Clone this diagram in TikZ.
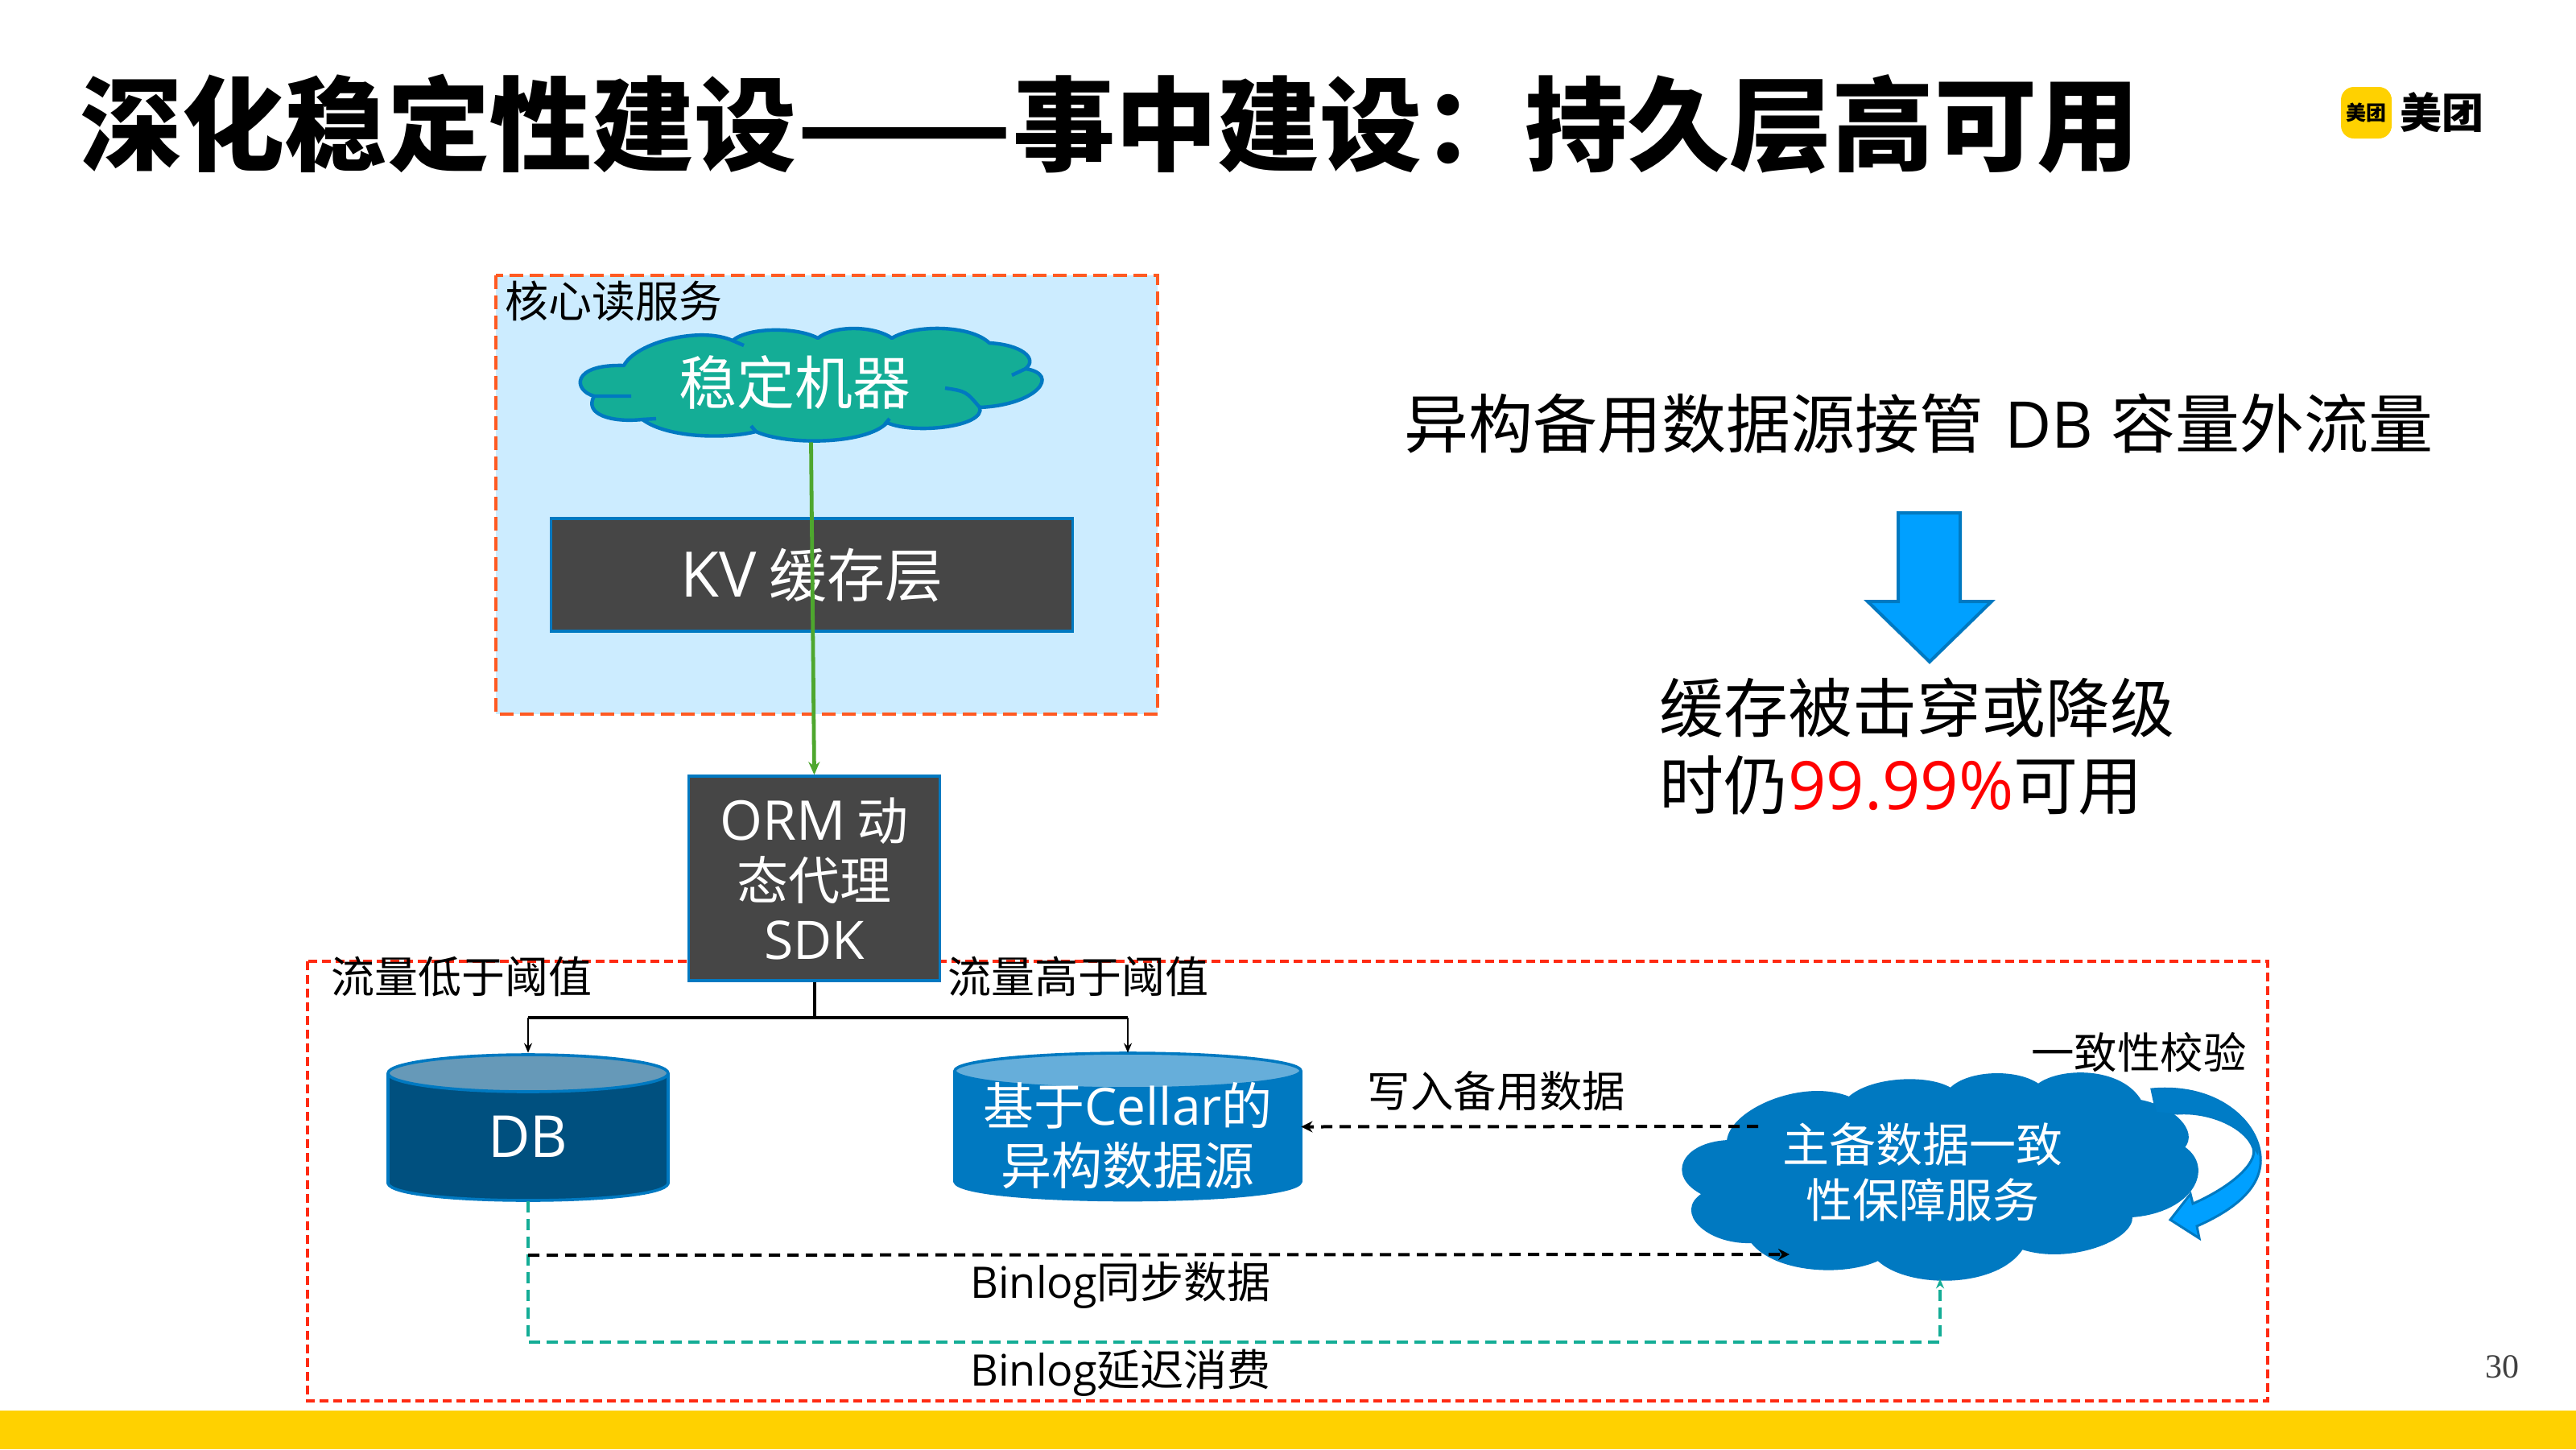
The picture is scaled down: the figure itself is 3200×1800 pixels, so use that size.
\documentclass[tikz,border=0pt]{standalone}
\usepackage{fontspec}
\setmainfont{Noto Sans CJK SC}
\newfontfamily\lat{Open Sans}
\newfontfamily\serifnum{Liberation Serif}
\usetikzlibrary{arrows.meta,positioning}
\definecolor{mtyellow}{HTML}{FFD100}
\definecolor{mtblue}{HTML}{0079C1}
\definecolor{arrowblue}{HTML}{00A0FF}
\definecolor{teal1}{HTML}{14AD96}
\definecolor{darkbox}{HTML}{464646}
\definecolor{lightbg}{HTML}{CCECFF}
\definecolor{orangeb}{HTML}{FF5A22}
\definecolor{redb}{HTML}{FF2A12}
\definecolor{greenl}{HTML}{4EA72E}
\definecolor{dbbody}{HTML}{00507F}
\definecolor{dbtop}{HTML}{6699B8}
\definecolor{celltop}{HTML}{66AEDA}
\newcommand{\fsz}[2]{\fontsize{#1pt}{#2pt}\selectfont}
\newcommand{\latsz}[2]{{\fontsize{#1pt}{0pt}\selectfont\lat #2}}
\tikzset{
  x=0.5pt,y=-0.5pt,
  lbl/.style={inner sep=0pt,align=center,text=black},
  whitelbl/.style={inner sep=0pt,align=center,text=white},
  boxed/.style={draw=mtblue,line width=1.7pt,fill=darkbox,inner sep=0pt,text=white,align=center},
  cyl/.style={draw=mtblue,line width=1.8pt,line join=round},
  dashblack/.style={line width=2pt,dash pattern=on 7pt off 4.5pt,black},
  dashteal/.style={line width=1.6pt,dash pattern=on 7pt off 4pt,teal1},
  tipsmall/.style={-{Stealth[length=6pt,width=5pt]}},
  tipblack/.style={-{Stealth[length=7pt,width=7pt]}},
}
\begin{document}
\begin{tikzpicture}
\useasboundingbox (0,0) rectangle (3200,1800);
\fill[white] (0,0) rectangle (3200,1800);
% bottom band
\fill[mtyellow] (0,1752) rectangle (3200,1800);
% title
\node[lbl,anchor=west] (title) at (99,154) {\fsz{63.6}{70}\bfseries 深化稳定性建设\scalebox{1.23}[1]{——}事中建设：持久层高可用};
% logo
\node[fill=mtyellow,rounded corners=8pt,minimum width=31.5pt,minimum height=32pt,inner sep=0pt] (logobox) at (2939.5,140) {};
\node[lbl] (logosmall) at (logobox) {\fsz{12.5}{14}\bfseries 美团};
\node[lbl,anchor=west] (logobig) at (2981,140) {\fsz{26}{30}\bfseries 美团};
% core read-service panel
\draw[fill=lightbg,draw=orangeb,line width=2.2pt,dash pattern=on 8.5pt off 4pt] (616,342) rectangle (1438,887);
\node[lbl,anchor=west] (corelbl) at (627,374) {\fsz{27}{30}核心读服务};
% green cloud
\filldraw[fill=teal1,draw=mtblue,line width=2.2pt,line join=round]
 (775,454) .. controls (790,425) and (870,405) .. (910,423)
 .. controls (930,406) and (990,406) .. (1016,420)
 .. controls (1035,404) and (1085,404) .. (1108,420)
 .. controls (1135,403) and (1205,403) .. (1229,426)
 .. controls (1268,428) and (1290,445) .. (1274,458)
 .. controls (1318,465) and (1288,503) .. (1217,506)
 .. controls (1225,530) and (1135,540) .. (1102,525)
 .. controls (1075,553) and (975,553) .. (939,536)
 .. controls (905,545) and (830,545) .. (798,521)
 .. controls (760,525) and (725,515) .. (738,492)
 .. controls (712,485) and (709,452) .. (775,454) -- cycle;
\draw[mtblue,line width=2.2pt]
 (910,423) -- (924,429)
 (1257,466) -- (1274,458)
 (1174,482) .. controls (1200,486) .. (1217,506)
 (784,492) -- (738,492)
 (815,520) -- (798,521)
 (1105,520) -- (1099,527)
 (933,529) -- (939,536);
\node[inner sep=0pt,minimum width=288pt,minimum height=71pt] (stablecloud) at (1007.5,478) {};
\node[whitelbl] (stabletxt) at (987,475) {\fsz{36}{40}稳定机器};
% KV box
\node[boxed,minimum width=324pt,minimum height=70pt] (kv) at (1008.5,714) {\fsz{36}{40}\latsz{39}{KV} 缓存层};
% red dashed frame
\draw[redb,line width=1.6pt,dash pattern=on 5.5pt off 3pt] (382,1194) rectangle (2817,1740);
% ORM box
\node[boxed,font=\fsz{32}{37},minimum width=156pt,minimum height=127pt] (sdk) at (1011.5,1091) {\latsz{34}{ORM} 动\\态代理\\\latsz{33}{SDK}};
% green arrow
\draw[greenl,line width=2.4pt,-{Stealth[length=8pt,width=7pt]}] (stablecloud.south) -- (sdk.north);
% labels
\node[lbl] (lowlbl) at (573.5,1213) {\fsz{27}{30}流量低于阈值};
\node[lbl] (highlbl) at (1339,1213) {\fsz{27}{30}流量高于阈值};
% DB cylinder
\filldraw[cyl,fill=dbbody] (482,1333) -- (482,1470) .. controls (490,1498) and (822,1498) .. (830,1470) -- (830,1333) -- cycle;
\filldraw[cyl,fill=dbtop] (656,1333) ellipse [x radius=174,y radius=23];
\node[inner sep=0pt,minimum width=174pt,minimum height=92pt] (db) at (656,1400) {};
\node[whitelbl] (dbtxt) at (656,1412) {\latsz{36}{DB}};
% Cellar cylinder
\filldraw[cyl,fill=mtblue] (1186,1330) -- (1186,1468) .. controls (1195,1498) and (1607,1498) .. (1616,1468) -- (1616,1330) -- cycle;
\filldraw[cyl,fill=celltop] (1401,1330) ellipse [x radius=215,y radius=22];
\node[inner sep=0pt,minimum width=215pt,minimum height=91.5pt] (cellar) at (1401,1399.5) {};
\node[whitelbl,font=\fsz{31.5}{37}] (celltxt) at (1401,1411) {基于\latsz{32}{Cellar}的\\异构数据源};
% SDK fan-out
\coordinate (busmid) at (1011.5,1264);
\coordinate (busl) at (656,1264);
\coordinate (busr) at (1401,1264);
\draw[black,line width=2pt] (sdk.south) -- (busmid) (busl) -- (busr);
\draw[black,line width=1.3pt,tipsmall] (busl) -- (db.north);
\draw[black,line width=1.3pt,tipsmall] (busr) -- (cellar.north);
% blue cloud
\filldraw[fill=mtblue,draw=mtblue,line width=1pt,line join=round]
 (2146,1417) .. controls (2150,1378) and (2240,1340) .. (2297,1363)
 .. controls (2325,1338) and (2395,1335) .. (2423,1352)
 .. controls (2445,1330) and (2505,1328) .. (2532,1347)
 .. controls (2560,1326) and (2635,1326) .. (2659,1367)
 .. controls (2700,1375) and (2730,1405) .. (2713,1425)
 .. controls (2750,1450) and (2725,1505) .. (2648,1511)
 .. controls (2650,1540) and (2570,1570) .. (2512,1551)
 .. controls (2480,1600) and (2370,1600) .. (2333,1565)
 .. controls (2290,1585) and (2205,1580) .. (2176,1543)
 .. controls (2120,1545) and (2080,1505) .. (2115,1483)
 .. controls (2070,1460) and (2090,1420) .. (2146,1417) -- cycle;
\node[inner sep=0pt,minimum width=320pt,minimum height=127pt] (svc) at (2410,1461) {};
\node[whitelbl,font=\fsz{29}{34.5}] (svctxt) at (2388,1456) {主备数据一致\\性保障服务};
% circular arrow
\filldraw[fill=arrowblue,draw=mtblue,line width=1.5pt,line join=miter]
 (2673,1353) .. controls (2760,1345) and (2812,1400) .. (2808,1446)
 .. controls (2805,1480) and (2770,1505) .. (2729,1523)
 -- (2732,1538) -- (2696,1515) -- (2721,1483) -- (2724,1495)
 .. controls (2770,1475) and (2805,1445) .. (2799,1426)
 .. controls (2790,1400) and (2745,1380) .. (2705,1383)
 -- (2679,1381) -- cycle;
\fill[mtblue!92!arrowblue]
 (2673,1353) .. controls (2760,1345) and (2812,1400) .. (2805,1435)
 -- (2799,1426) .. controls (2790,1400) and (2745,1380) .. (2705,1383)
 -- (2679,1381) -- cycle;
% consistency label
\node[lbl] (cklbl) at (2657,1307) {\fsz{26.7}{30}一致性校验};
% dashed connectors
\coordinate (wrstart) at (2184,1399);
\draw[dashblack,tipblack] (wrstart) -- (cellar.east);
\node[lbl] (wrlbl) at (1859,1355) {\fsz{26.7}{30}写入备用数据};
\coordinate (g1) at (656,1667);
\coordinate (g2) at (2410,1667);
\draw[dashteal,tipsmall] (db.south) -- (g1) -- (g2) -- (svc.south);
\coordinate (syncstart) at (656,1559);
\coordinate (syncend) at (2223,1558);
\draw[dashblack,tipblack] (syncstart) -- (syncend);
\node[lbl] (synclbl) at (1392,1596) {\fsz{27}{30}\latsz{27}{Binlog}同步数据};
\node[lbl] (delaylbl) at (1392,1705) {\fsz{27}{30}\latsz{27}{Binlog}延迟消费};
% right text
\node[lbl,anchor=west] (head) at (1744,526) {\fsz{40}{46}异构备用数据源接管\kern4pt{} \latsz{40}{DB}\kern2pt{} 容量外流量};
\filldraw[fill=arrowblue,draw=mtblue,line width=2pt,miter limit=10]
 (2358,637) -- (2435,637) -- (2435,747) -- (2474,747) -- (2397,822) -- (2320,747) -- (2358,747) -- cycle;
\node[lbl,anchor=west,align=left] (res1) at (2061,879) {\fsz{40}{46}缓存被击穿或降级};
\node[lbl,anchor=west,align=left] (res2) at (2061,975) {\fsz{40}{46}时仍\textcolor{red}{\latsz{41.5}{99.99\%}}可用};
% page number
\node[inner sep=0pt,text=black!75] (pageno) at (3108,1698) {\fsz{21}{24}\serifnum 30};
\end{tikzpicture}
\end{document}
